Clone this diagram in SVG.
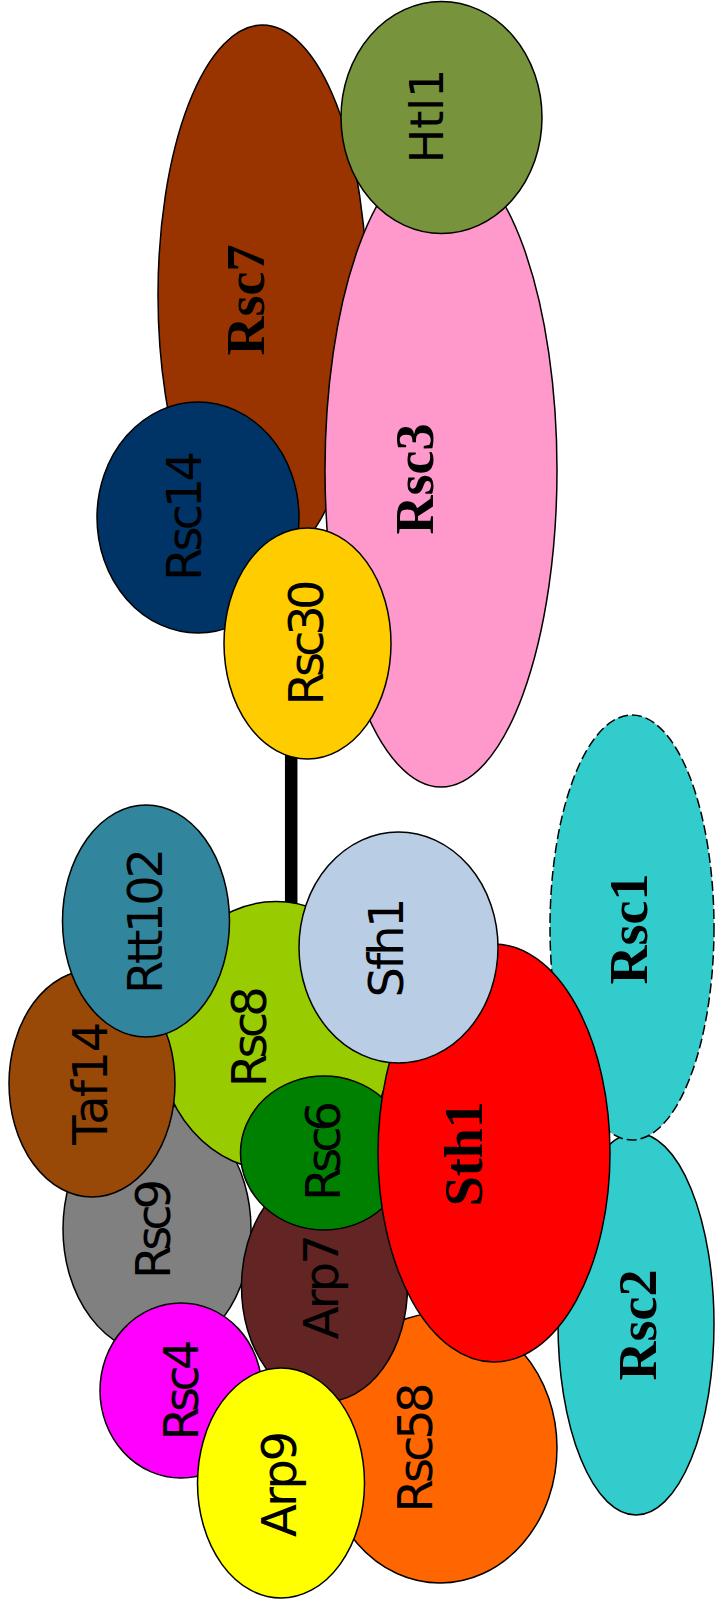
<svg xmlns="http://www.w3.org/2000/svg" width="715" height="1606" viewBox="0 0 715 1606">
<style>
.n{stroke:#000;stroke-width:1.5}
.s{font-family:"DejaVu Sans",sans-serif;font-size:48px;text-anchor:middle;fill:#000}
.b{font-family:"Liberation Serif","Times New Roman",serif;font-weight:bold;font-size:54px;text-anchor:middle;fill:#000}
</style>
<rect width="715" height="1606" fill="#fff"/>
<g id="connectors">
<line x1="291.2" y1="750" x2="291.2" y2="908" stroke="#000" stroke-width="12.5"/>
</g>
<g id="Rsc7"><ellipse class="n" cx="262.5" cy="295" rx="104.5" ry="270" fill="#993300"/><text class="b" transform="translate(264,300) rotate(-90)">Rsc7</text></g>
<g id="Rsc3"><ellipse class="n" cx="441" cy="470" rx="116" ry="317" fill="#FF99CC"/><text class="b" transform="translate(432.5,479) rotate(-90)">Rsc3</text></g>
<g id="Htl1"><ellipse class="n" cx="441.5" cy="117.5" rx="100.5" ry="116" fill="#77933C"/><text class="s" style="font-size:46px" transform="translate(443,116) rotate(-90)">Htl1</text></g>
<g id="Rsc14"><ellipse class="n" cx="198" cy="517.5" rx="101" ry="115.5" fill="#003366"/><text class="s" transform="translate(200.5,516) rotate(-90)" textLength="130" lengthAdjust="spacing">Rsc14</text></g>
<g id="Rsc30"><ellipse class="n" cx="307.5" cy="643.5" rx="83.5" ry="115.5" fill="#FFCC00"/><text class="s" transform="translate(322.5,642.5) rotate(-90)" textLength="126" lengthAdjust="spacing">Rsc30</text></g>
<g id="Rsc9"><ellipse class="n" cx="157" cy="1229" rx="94" ry="125" fill="#808080"/><text class="s" transform="translate(170,1229) rotate(-90)" textLength="100" lengthAdjust="spacing">Rsc9</text></g>
<g id="Rsc8"><ellipse class="n" cx="276" cy="1036" rx="118" ry="134.5" fill="#99CC00"/><text class="s" transform="translate(266,1036.7) rotate(-90)" textLength="101" lengthAdjust="spacing">Rsc8</text></g>
<g id="Taf14"><ellipse class="n" cx="92" cy="1083.5" rx="83" ry="113.5" fill="#984807"/><text class="s" transform="translate(106.5,1083.3) rotate(-90)" textLength="123" lengthAdjust="spacing">Taf14</text></g>
<g id="Rtt102"><ellipse class="n" cx="146" cy="921" rx="83.5" ry="116" fill="#31859C"/><text class="s" transform="translate(161.5,921) rotate(-90)" textLength="146" lengthAdjust="spacing">Rtt102</text></g>
<g id="Rsc4"><ellipse class="n" cx="181" cy="1390.5" rx="81" ry="87.5" fill="#FF00FF"/><text class="s" transform="translate(198,1390) rotate(-90)" textLength="101" lengthAdjust="spacing">Rsc4</text></g>
<g id="Rsc58"><ellipse class="n" cx="440" cy="1448" rx="117" ry="135" fill="#FF6600"/><text class="s" transform="translate(432,1447.5) rotate(-90)" textLength="130" lengthAdjust="spacing">Rsc58</text></g>
<g id="Arp7"><ellipse class="n" cx="324.5" cy="1286.5" rx="83" ry="115.5" fill="#632523"/><text class="s" transform="translate(338.3,1286.7) rotate(-90)" textLength="105" lengthAdjust="spacing">Arp7</text></g>
<g id="Rsc6"><ellipse class="n" cx="324" cy="1153" rx="83.5" ry="77" fill="#008000"/><text class="s" transform="translate(339.5,1151) rotate(-90)" textLength="100" lengthAdjust="spacing">Rsc6</text></g>
<g id="Rsc2"><ellipse class="n" cx="636" cy="1324" rx="78" ry="191" fill="#33CCCC"/><text class="b" transform="translate(655.5,1325) rotate(-90)">Rsc2</text></g>
<g id="Rsc1"><ellipse class="n" cx="632" cy="927.5" rx="82" ry="212.5" fill="#33CCCC" stroke-dasharray="10,4"/><text class="b" transform="translate(647,929) rotate(-90)">Rsc1</text></g>
<g id="Sth1"><ellipse class="n" cx="494" cy="1153" rx="116" ry="209" fill="#FF0000"/><text class="b" transform="translate(482,1153.7) rotate(-90)">Sth1</text></g>
<g id="Sfh1"><ellipse class="n" cx="398.5" cy="947.5" rx="99.5" ry="115.5" fill="#B9CDE5"/><text class="s" transform="translate(403,947.5) rotate(-90)" textLength="100" lengthAdjust="spacing">Sfh1</text></g>
<g id="Arp9"><ellipse class="n" cx="281" cy="1483" rx="83.5" ry="115" fill="#FFFF00"/><text class="s" transform="translate(296,1484) rotate(-90)" textLength="106" lengthAdjust="spacing">Arp9</text></g>
</svg>
